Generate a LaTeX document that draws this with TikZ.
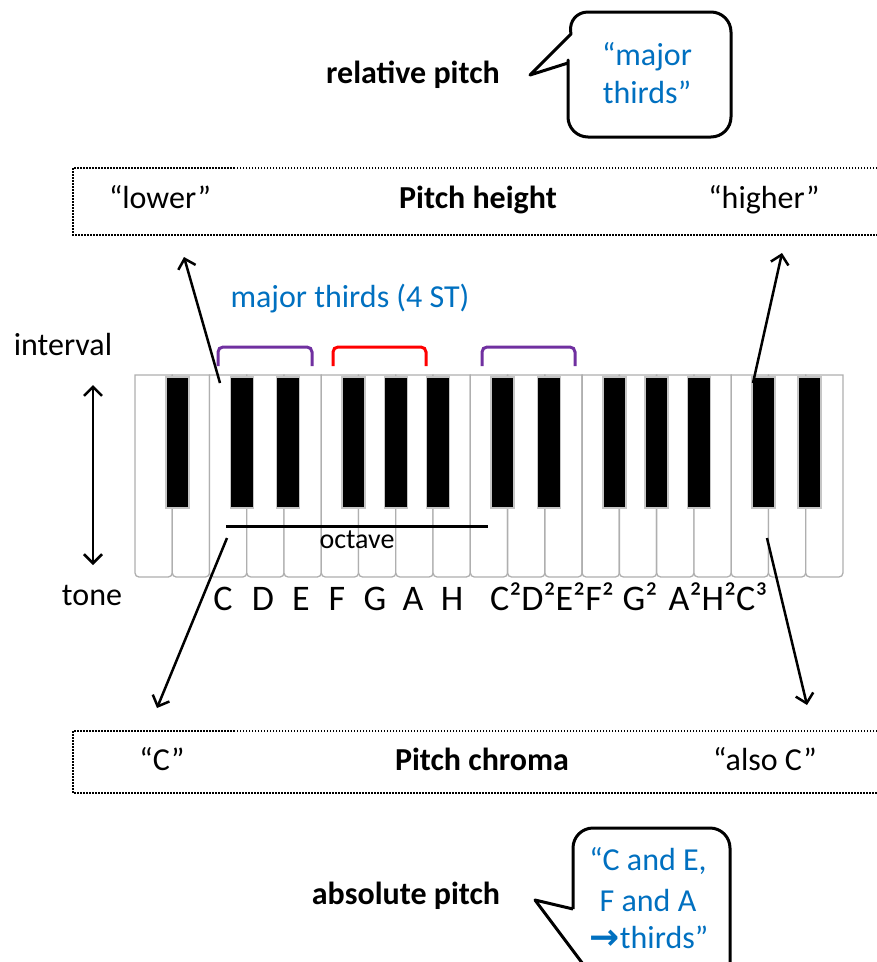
\documentclass[tikz,border=0pt]{standalone}
\usepackage{fontspec}
\setmainfont{Carlito}
\newfontfamily\arrowfont{DejaVu Sans}
\usetikzlibrary{arrows.meta}
\definecolor{txtblue}{RGB}{0,112,192}
\definecolor{brpurple}{RGB}{112,48,160}
\definecolor{keyedge}{RGB}{175,175,175}
\tikzset{
  lbl/.style={inner sep=0pt, anchor=base, font=\fontsize{32}{38}\selectfont},
  bld/.style={inner sep=0pt, anchor=base, font=\fontsize{32}{38}\selectfont\bfseries},
  small/.style={inner sep=0pt, anchor=base, font=\fontsize{28}{34}\selectfont},
  note/.style={inner sep=0pt, anchor=base, font=\fontsize{36}{42}\selectfont},
  bluetxt/.style={lbl, text=txtblue},
  dotbox/.style={draw, line width=1.5pt, dash pattern=on 1.5pt off 1.5pt},
  callout/.style={draw, line width=3pt, line join=round, fill=white},
  arr/.style={line width=2.5pt, -{Straight Barb[length=9pt,width=18pt,line width=2.5pt]}},
  darr/.style={line width=2.5pt, {Straight Barb[length=9pt,width=18pt,line width=2.5pt]}-{Straight Barb[length=9pt,width=18pt,line width=2.5pt]}},
  bracketline/.style={line width=3pt, rounded corners=5pt},
  whitekey/.style={fill=white, draw=keyedge, line width=1.3pt},
  blackkey/.style={fill=black, draw=gray!45, line width=1.5pt}
}
\begin{document}
\begin{tikzpicture}[x=1pt,y=-1pt]
\useasboundingbox (0,0) rectangle (877,962);

% top callout
\node[bld] (relpitch) at (413,83) {relative pitch};
\draw[callout] (568,63) -- (530,75) -- (571,34) [rounded corners=20pt] -- (568,12) -- (731,12) -- (731,137) -- (568,137) -- (568,80) [sharp corners] -- (568,63);
\node[bluetxt] (maj1) at (647,65) {“major};
\node[bluetxt] (maj2) at (647,103) {thirds”};

% pitch height box
\draw[dotbox] (880,168) -- (73,168) -- (73,235) -- (880,235);
\node[lbl] (lower) at (160,208) {“lower”};
\node[bld] (pheight) at (478,208) {Pitch height};
\node[lbl] (higher) at (764,208) {“higher”};

% blue label
\node[bluetxt] (mt) at (350,307) {major thirds (4 ST)};
\node[lbl] (interval) at (63,355) {interval};
\node[lbl] (tone) at (92,605) {tone};

% brackets
\draw[bracketline, brpurple] (218,366) -- (218,347) -- (312,347) -- (312,366);
\draw[bracketline, red] (333,366) -- (333,347) -- (426,347) -- (426,366);
\draw[bracketline, brpurple] (482,366) -- (482,347) -- (575,347) -- (575,366);

% piano
\foreach \i in {0,...,18}
  \draw[whitekey] ({135+37.26*\i},375) -- ({135+37.26*\i},573)
     arc[start angle=180, end angle=270, radius=4pt] -- ({135+37.26*(\i+1)-4},577)
     arc[start angle=270, end angle=360, radius=4pt] -- ({135+37.26*(\i+1)},375) -- cycle;
\foreach \b/\o in {1/5,3/-5,4/4,6/-5,7/0,8/5,10/-5,11/4,13/-5,14/0,15/5,17/-5,18/4}
  \draw[blackkey] ({135+37.26*\b+\o-11.5},377) rectangle ++(23,131);

% octave
\coordinate (octL) at (226,526);
\coordinate (octR) at (488,526);
\draw[line width=3pt] (octL) -- (octR);
\node[small] (octave) at (357,548) {octave};

% vertical double arrow
\coordinate (dtop) at (93,385);
\coordinate (dbot) at (93,565);
\draw[darr] (dbot) -- (dtop);

% note names
\node[note] (nC) at (223,610) {C};
\node[note] (nD) at (263,610) {D};
\node[note] (nE) at (301,610) {E};
\node[note] (nF) at (337,610) {F};
\node[note] (nG) at (375,610) {G};
\node[note] (nA) at (413,610) {A};
\node[note] (nH) at (452,610) {H};
\node[note] (nCDEF) at (552,610) {C²D²E²F²};
\node[note] (nG2) at (640,610) {G²};
\node[note] (nAHC) at (718,610) {A²H²C³};

% arrows
\coordinate (lowtail) at (220,383);
\coordinate (lowtip) at (184,257);
\coordinate (hightail) at (753,383);
\coordinate (hightip) at (782,253);
\coordinate (ctail) at (227,538);
\coordinate (ctip) at (157,708);
\coordinate (c2tail) at (767,538);
\coordinate (c2tip) at (807,705);
\draw[arr] (lowtail) -- (lowtip);
\draw[arr] (hightail) -- (hightip);
\draw[arr] (ctail) -- (ctip);
\draw[arr] (c2tail) -- (c2tip);

% pitch chroma box
\draw[dotbox] (880,731) -- (73,731) -- (73,793) -- (880,793);
\node[lbl] (cq) at (162,770) {“C”};
\node[bld] (pchroma) at (482,770) {Pitch chroma};
\node[lbl] (alsoc) at (765,770) {“also C”};

% bottom callout
\node[bld] (abspitch) at (406,904) {absolute pitch};
\draw[callout] (573,909) -- (535,900) -- (586,968) -- (730,968) [rounded corners=20pt] -- (730,828) -- (573,828) -- (573,880) [sharp corners] -- (573,909);
\node[bluetxt] (ab1) at (648,870) {“C and E,};
\node[bluetxt] (ab2) at (648,911) {F and A};
\node[bluetxt] (ab3) at (649,948) {{\arrowfont\bfseries\fontsize{36}{40}\selectfont\raisebox{-1pt}{→}}thirds”};
\end{tikzpicture}
\end{document}
